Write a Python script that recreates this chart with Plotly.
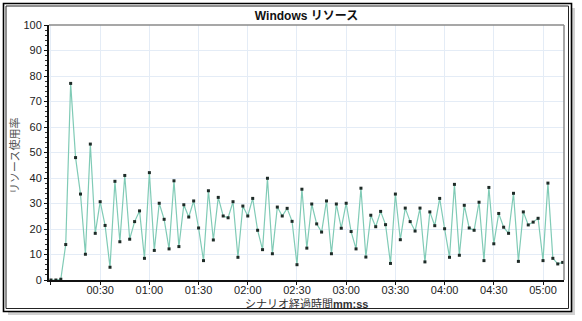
import plotly.graph_objects as go

# elapsed seconds of each sample
seconds = [0, 3, 6, 9, 12, 15, 18, 21, 24, 27, 30, 33, 36, 39, 42, 45, 48, 51, 54, 57,
           60, 63, 66, 69, 72, 75, 78, 81, 84, 87, 90, 93, 96, 99, 102, 105, 108, 111, 114, 117,
           120, 123, 126, 129, 132, 135, 138, 141, 144, 147, 150, 153, 156, 159, 162, 165, 168, 171, 174, 177,
           180, 183, 186, 189, 192, 195, 198, 201, 204, 207, 210, 213, 216, 219, 222, 225, 228, 231, 234, 237,
           240, 243, 246, 249, 252, 255, 258, 261, 264, 267, 270, 273, 276, 279, 282, 285, 288, 291, 294, 297,
           300, 303, 306, 309, 312]

usage = [0, 0, 0.3, 13.9, 77.1, 48, 33.7, 10.1, 53.3, 18.3, 30.7, 21.4, 5, 38.7, 15, 41, 16, 22.9, 27.1, 8.5,
         42.1, 11.6, 30.1, 23.8, 12.2, 38.9, 13.1, 29.5, 24.7, 31, 20.4, 7.6, 35, 15.7, 32.4, 25.1, 24.4, 30.7, 8.9, 29,
         25.1, 32, 19.5, 11.9, 39.9, 10.3, 28.6, 25.1, 28.1, 23, 6, 35.6, 12.5, 29.8, 22, 18.8, 31, 10.3, 29.8, 20.3,
         30.1, 19, 12.2, 36, 9, 25.4, 20.9, 26.9, 21.7, 6.5, 33.7, 15.8, 28.2, 22.9, 19.2, 28.2, 7.1, 26.7, 21.3, 32,
         20.1, 8.9, 37.5, 9.7, 29.3, 20.4, 19.5, 30.5, 7.6, 36.3, 14.2, 26.1, 20.7, 18.3, 34, 7.3, 26.7, 21.6, 22.7, 24.2,
         7.6, 38, 8.5, 6.3, 6.9]

x_tickvals = [0, 30, 60, 90, 120, 150, 180, 210, 240, 270, 300]
x_ticktext = ["", "00:30", "01:00", "01:30", "02:00", "02:30", "03:00", "03:30", "04:00", "04:30", "05:00"]
y_tickvals = [0, 10, 20, 30, 40, 50, 60, 70, 80, 90, 100]

title_text = "<b>Windows リソース</b>"
x_title = "シナリオ経過時間<b>mm:ss</b>"
y_title = "リソース使用率"

FONT = "Liberation Sans, Arial, Noto Sans CJK JP, sans-serif"
W, H = 582, 321
L, R, T, B = 49, 564, 25, 280


def px(x):
    return (x - L) / (R - L)


def py(y):
    return (B - y) / (B - T)


fig = go.Figure()
fig.add_trace(go.Scatter(
    x=seconds, y=usage, mode="lines+markers",
    line=dict(color="#80cbb6", width=1.2),
    marker=dict(symbol="square", size=3, color="#1e2b27"),
    hoverinfo="skip", showlegend=False,
))

grid = "#e4ecf6"
fig.update_layout(
    width=W, height=H,
    margin=dict(l=L, r=W - R, t=T, b=H - B, autoexpand=False),
    paper_bgcolor="white", plot_bgcolor="white",
    font=dict(family=FONT, size=11, color="#222"),
    title=dict(text=title_text, x=(L + R) / 2 / W, xanchor="center",
               y=1 - 15.5 / H, yanchor="middle", font=dict(size=12, color="#111")),
    xaxis=dict(
        range=[-1.2, 312.8], tickvals=x_tickvals, ticktext=x_ticktext,
        showgrid=True, gridcolor=grid, gridwidth=1, zeroline=False,
        showline=True, linecolor="#111", linewidth=2,
        ticks="outside", ticklen=3, tickcolor="#111",
        ticklabelstandoff=-4,
        automargin=False,
        tickfont=dict(size=11, color="#222"),
    ),
    yaxis=dict(
        range=[0, 100], tickvals=y_tickvals,
        showgrid=True, gridcolor=grid, gridwidth=1, zeroline=False,
        showline=True, linecolor="#111", linewidth=2,
        ticks="outside", ticklen=3, tickcolor="#111",
        automargin=False,
        tickfont=dict(size=11, color="#222"),
        minor=dict(dtick=2, ticks="outside", ticklen=2, tickcolor="#333", showgrid=False),
    ),
)

fig.add_annotation(text=x_title, xref="paper", yref="paper",
                   x=px(306.5), y=py(304), xanchor="center", yanchor="middle",
                   showarrow=False, font=dict(size=11, color="#333"))
fig.add_annotation(text=y_title, xref="paper", yref="paper",
                   x=px(15), y=py(156), xanchor="center", yanchor="middle", textangle=-90,
                   showarrow=False, font=dict(size=11, color="#555"))

shapes = []
# plot area top / right border (gray)
shapes.append(dict(type="line", xref="paper", yref="paper", x0=0, x1=1, y0=1, y1=1,
                   line=dict(color="#8a8a8a", width=1.5)))
shapes.append(dict(type="line", xref="paper", yref="paper", x0=1, x1=1, y0=0, y1=1,
                   line=dict(color="#8a8a8a", width=1.5)))
# drop shadow
shapes.append(dict(type="rect", xref="paper", yref="paper",
                   x0=px(8), x1=px(575), y0=py(8), y1=py(315),
                   line=dict(width=0), fillcolor="rgba(0,0,0,0.18)", layer="below"))
shapes.append(dict(type="rect", xref="paper", yref="paper",
                   x0=px(3.5), x1=px(571.5), y0=py(3.5), y1=py(311.5),
                   line=dict(width=0), fillcolor="white", layer="below"))
# double frame
shapes.append(dict(type="rect", xref="paper", yref="paper",
                   x0=px(3.5), x1=px(571.5), y0=py(3.5), y1=py(311.5),
                   line=dict(color="#000", width=1.6)))
shapes.append(dict(type="rect", xref="paper", yref="paper",
                   x0=px(6), x1=px(568.5), y0=py(6), y1=py(308.5),
                   line=dict(color="#222", width=1)))
fig.update_layout(shapes=shapes)

fig.write_html("out.html")
